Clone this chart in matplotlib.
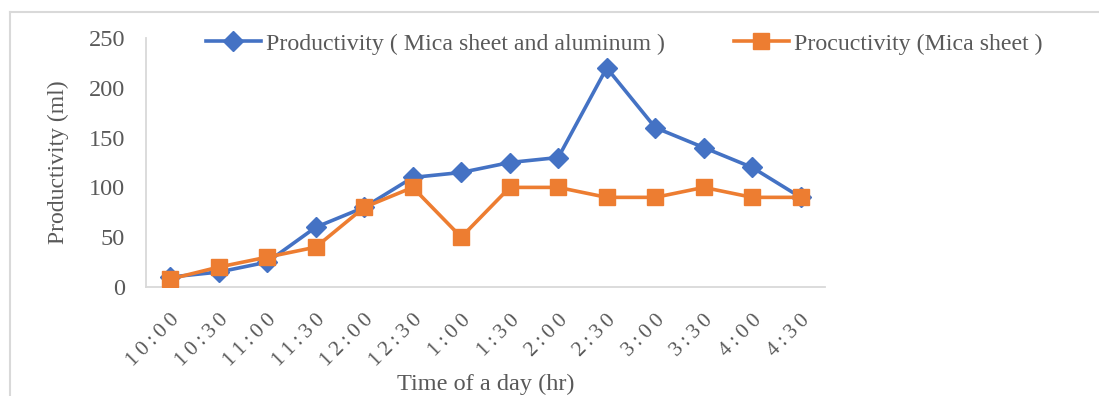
import matplotlib
matplotlib.use("Agg")
import matplotlib.pyplot as plt
from matplotlib.lines import Line2D

# Data
times = ["10:00", "10:30", "11:00", "11:30", "12:00", "12:30", "1:00",
         "1:30", "2:00", "2:30", "3:00", "3:30", "4:00", "4:30"]
mica_aluminum = [10, 15, 25, 60, 80, 110, 115, 125, 130, 220, 160, 140, 120, 90]
mica_sheet = [8, 20, 30, 40, 80, 100, 50, 100, 100, 90, 90, 100, 90, 90]
yticks = [0, 50, 100, 150, 200, 250]

series_names = ["Productivity ( Mica sheet and aluminum )",
                "Procuctivity (Mica sheet )"]

BLUE = "#4472C4"
ORANGE = "#ED7D31"
TEXT = "#595959"
GRID = "#D9D9D9"
FONT = ["Liberation Serif", "DejaVu Serif"]

plt.rcParams["font.family"] = FONT

W, H = 1099, 396
fig = plt.figure(figsize=(W / 100, H / 100), dpi=100)

# Outer chart frame (left and top edges visible)
fig.add_artist(Line2D([10 / W, 10 / W], [0, 1 - 12 / H], color=GRID, lw=1.5,
                      transform=fig.transFigure))
fig.add_artist(Line2D([10 / W, 1], [1 - 12 / H, 1 - 12 / H], color=GRID, lw=1.5,
                      transform=fig.transFigure))

ax = fig.add_axes([146 / W, 1 - 287 / H, (825 - 146) / W, (287 - 38) / H])

x = list(range(len(times)))
l1, = ax.plot(x, mica_aluminum, color=BLUE, lw=2.6, marker="D", markersize=10,
              zorder=3, label=series_names[0])
l2, = ax.plot(x, mica_sheet, color=ORANGE, lw=2.6, marker="s", markersize=12,
              zorder=4, label=series_names[1])

ax.set_xlim(-0.5, len(times) - 0.5)
ax.set_ylim(0, 250)
ax.set_yticks(yticks)
ax.set_yticklabels([str(v) for v in yticks])
ax.set_xticks(x)
spaced = ["\u2009".join(t) for t in times]
ax.set_xticklabels(spaced, rotation=45, ha="right", va="top",
                   rotation_mode="anchor")

for s in ["top", "right"]:
    ax.spines[s].set_visible(False)
for s in ["left", "bottom"]:
    ax.spines[s].set_color(GRID)
    ax.spines[s].set_linewidth(1.3)

ax.tick_params(axis="y", length=0, pad=15, labelsize=17.5, labelcolor=TEXT)
ax.tick_params(axis="x", length=0, pad=17, labelsize=15.5, labelcolor=TEXT)

ax.set_ylabel("Productivity (ml)", fontsize=17, color=TEXT, labelpad=14)
fig.text(486 / W, 1 - 384 / H, "Time of a day (hr)", fontsize=17.5, color=TEXT,
         ha="center", va="center")

fig.legend(handles=[l1, l2], loc="center left",
           bbox_to_anchor=(206 / W, 1 - 44 / H), ncol=2, frameon=False,
           fontsize=17.2, labelcolor=TEXT, handlelength=2.3, handletextpad=0.2,
           columnspacing=2.9, borderpad=0, borderaxespad=0)

fig.savefig("out.png", dpi=100, facecolor="white")
